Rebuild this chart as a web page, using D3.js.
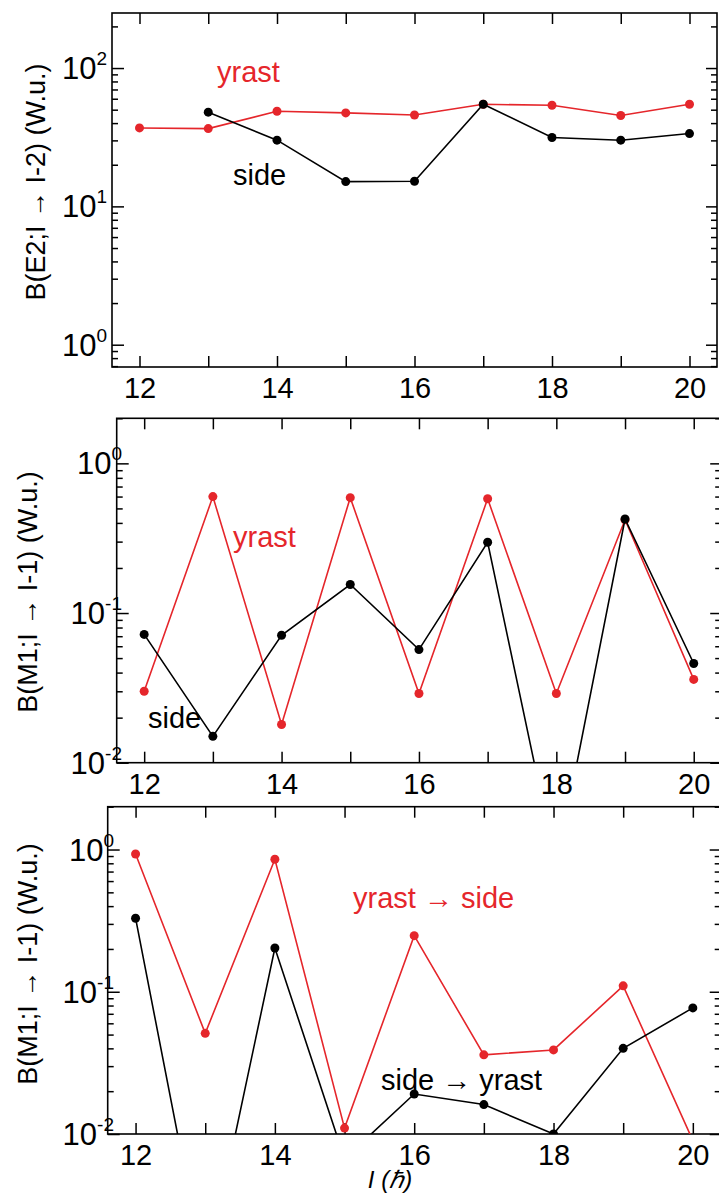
<!DOCTYPE html>
<html><head><meta charset="utf-8">
<script src="https://cdn.jsdelivr.net/npm/d3@7"></script>
<style>
body{margin:0;background:#fff}
svg{display:block}
text{font-family:"Liberation Sans",Arial,Helvetica,sans-serif}
</style>
</head><body>
<svg id="c" width="719" height="1202"></svg>
<script>
// ---------- data ----------
const spins = [12, 13, 14, 15, 16, 17, 18, 19, 20];
const xTickLabels = [12, 14, 16, 18, 20];

// Panel 1: B(E2; I -> I-2) (W.u.)
const e2YrastSpins = [12, 13, 14, 15, 16, 17, 18, 19, 20];
const e2Yrast = [36.9, 36.5, 48.7, 47.4, 45.8, 54.7, 53.8, 45.4, 54.7];
const e2SideSpins = [13, 14, 15, 16, 17, 18, 19, 20];
const e2Side = [48.0, 30.1, 15.1, 15.2, 54.7, 31.5, 30.1, 33.6];

// Panel 2: B(M1; I -> I-1) (W.u.), in-band
const m1Yrast = [0.030, 0.60, 0.018, 0.59, 0.029, 0.58, 0.029, 0.42, 0.036];
const m1Side = [0.072, 0.015, 0.071, 0.155, 0.057, 0.297, 0.002, 0.425, 0.046];

// Panel 3: B(M1; I -> I-1) (W.u.), inter-band
const m1YrastToSide = [0.93, 0.051, 0.855, 0.011, 0.248, 0.036, 0.039, 0.11, 0.009];
const m1SideToYrast = [0.329, 0.001, 0.203, 0.0067, 0.0191, 0.0161, 0.010, 0.040, 0.077];

const yDecades1 = [0, 1, 2];
const yDecades23 = [-2, -1, 0];

const RED = "#e5262b", BLACK = "#000";

// ---------- layout ----------
const panels = [
  { left: 112, right: 717, top: 13, bottom: 367, yDomain: [0.69, 250], decades: yDecades1,
    yTitle: "B(E2;I \u2192 I-2) (W.u.)", yTitleX: 45, yTitleY: 182, labEnd: 107,
    series: [
      { xs: e2YrastSpins, ys: e2Yrast, color: RED, label: "yrast", lx: 217, ly: 82 },
      { xs: e2SideSpins, ys: e2Side, color: BLACK, label: "side", lx: 233, ly: 185 }
    ] },
  { left: 116.7, right: 721.2, top: 418.3, bottom: 762.7, yDomain: [0.01, 2], decades: yDecades23,
    yTitle: "B(M1;I \u2192 I-1) (W.u.)", yTitleX: 37, yTitleY: 592, labEnd: 122,
    series: [
      { xs: spins, ys: m1Yrast, color: RED, label: "yrast", lx: 233, ly: 547 },
      { xs: spins, ys: m1Side, color: BLACK, label: "side", lx: 148, ly: 728 }
    ] },
  { left: 107.7, right: 720.7, top: 806.7, bottom: 1134, yDomain: [0.01, 2], decades: yDecades23,
    yTitle: "B(M1;I \u2192 I-1) (W.u.)", yTitleX: 37, yTitleY: 964, labEnd: 114,
    series: [
      { xs: spins, ys: m1YrastToSide, color: RED, label: "yrast \u2192 side", lx: 353, ly: 908 },
      { xs: spins, ys: m1SideToYrast, color: BLACK, label: "side \u2192 yrast", lx: 381, ly: 1090 }
    ] }
];

const svg = d3.select("#c");

panels.forEach((p, i) => {
  const x = d3.scaleLinear().domain([11.6, 20.4]).range([p.left, p.right]);
  const y = d3.scaleLog().domain(p.yDomain).range([p.bottom, p.top]);
  const g = svg.append("g");

  const clipId = "clip" + i;
  svg.append("defs").append("clipPath").attr("id", clipId)
    .append("rect").attr("x", p.left).attr("y", p.top)
    .attr("width", p.right - p.left).attr("height", p.bottom - p.top);

  // x axes (ticks inward)
  const xb = g.append("g").attr("transform", `translate(0,${p.bottom})`)
    .call(d3.axisBottom(x).tickValues(spins).tickSize(-11).tickPadding(0)
      .tickFormat(d => xTickLabels.includes(d) ? d : ""));
  xb.select(".domain").remove();
  xb.selectAll("line").attr("stroke", "#000").attr("stroke-width", 1.5);
  xb.selectAll("text").attr("y", 31).attr("dy", null).attr("fill", "#000")
    .attr("font-size", 29).attr("font-family", "'Liberation Sans',Arial,sans-serif");

  const xt = g.append("g").attr("transform", `translate(0,${p.top})`)
    .call(d3.axisTop(x).tickValues(spins).tickSize(-11).tickFormat(""));
  xt.select(".domain").remove();
  xt.selectAll("line").attr("stroke", "#000").attr("stroke-width", 1.5);

  // y axes
  const yTicks = y.ticks().filter(v => v >= p.yDomain[0] && v <= p.yDomain[1]);
  const isMajor = v => Math.abs(Math.log10(v) - Math.round(Math.log10(v))) < 1e-9;
  const yl = g.append("g").attr("transform", `translate(${p.left},0)`)
    .call(d3.axisLeft(y).tickValues(yTicks).tickSize(-11).tickFormat(""));
  yl.select(".domain").remove();
  yl.selectAll("line").attr("x2", d => isMajor(d) ? 12 : 6).attr("stroke", "#000").attr("stroke-width", 1.5);

  const yr = g.append("g").attr("transform", `translate(${p.right},0)`)
    .call(d3.axisRight(y).tickValues(yTicks).tickSize(-11).tickFormat(""));
  yr.select(".domain").remove();
  yr.selectAll("line").attr("x2", d => isMajor(d) ? -11 : -6).attr("stroke", "#000").attr("stroke-width", 1.5);

  // decade labels 10^n
  p.decades.forEach(e => {
    const t = g.append("text").attr("x", p.labEnd).attr("y", y(Math.pow(10, e)) + 11)
      .attr("text-anchor", "end").attr("font-size", 31).attr("fill", "#000");
    t.append("tspan").text("10");
    t.append("tspan").attr("dy", -14).attr("font-size", 19).text(String(e));
  });

  // frame
  g.append("rect").attr("x", p.left).attr("y", p.top)
    .attr("width", p.right - p.left).attr("height", p.bottom - p.top)
    .attr("fill", "none").attr("stroke", "#000").attr("stroke-width", 1.6);

  // y title
  g.append("text").attr("transform", `translate(${p.yTitleX},${p.yTitleY}) rotate(-90)`)
    .attr("text-anchor", "middle").attr("font-size", 27).attr("fill", "#000").text(p.yTitle);

  // series
  const plot = g.append("g").attr("clip-path", `url(#${clipId})`);
  p.series.forEach(s => {
    const pts = s.xs.map((xv, k) => [xv, s.ys[k]]);
    plot.append("path").datum(pts)
      .attr("d", d3.line().x(d => x(d[0])).y(d => y(d[1])))
      .attr("fill", "none").attr("stroke", s.color).attr("stroke-width", 1.6);
    plot.selectAll(null).data(pts).enter().append("circle")
      .attr("cx", d => x(d[0])).attr("cy", d => y(d[1])).attr("r", 4.5).attr("fill", s.color);
    g.append("text").attr("x", s.lx).attr("y", s.ly).attr("font-size", 29)
      .attr("fill", s.color).text(s.label);
  });
});

// x title
svg.append("text").attr("x", 390).attr("y", 1188).attr("text-anchor", "middle")
  .attr("font-size", 24).attr("font-style", "italic").attr("fill", "#000").text("I (\u210F)");
</script>
</body></html>
